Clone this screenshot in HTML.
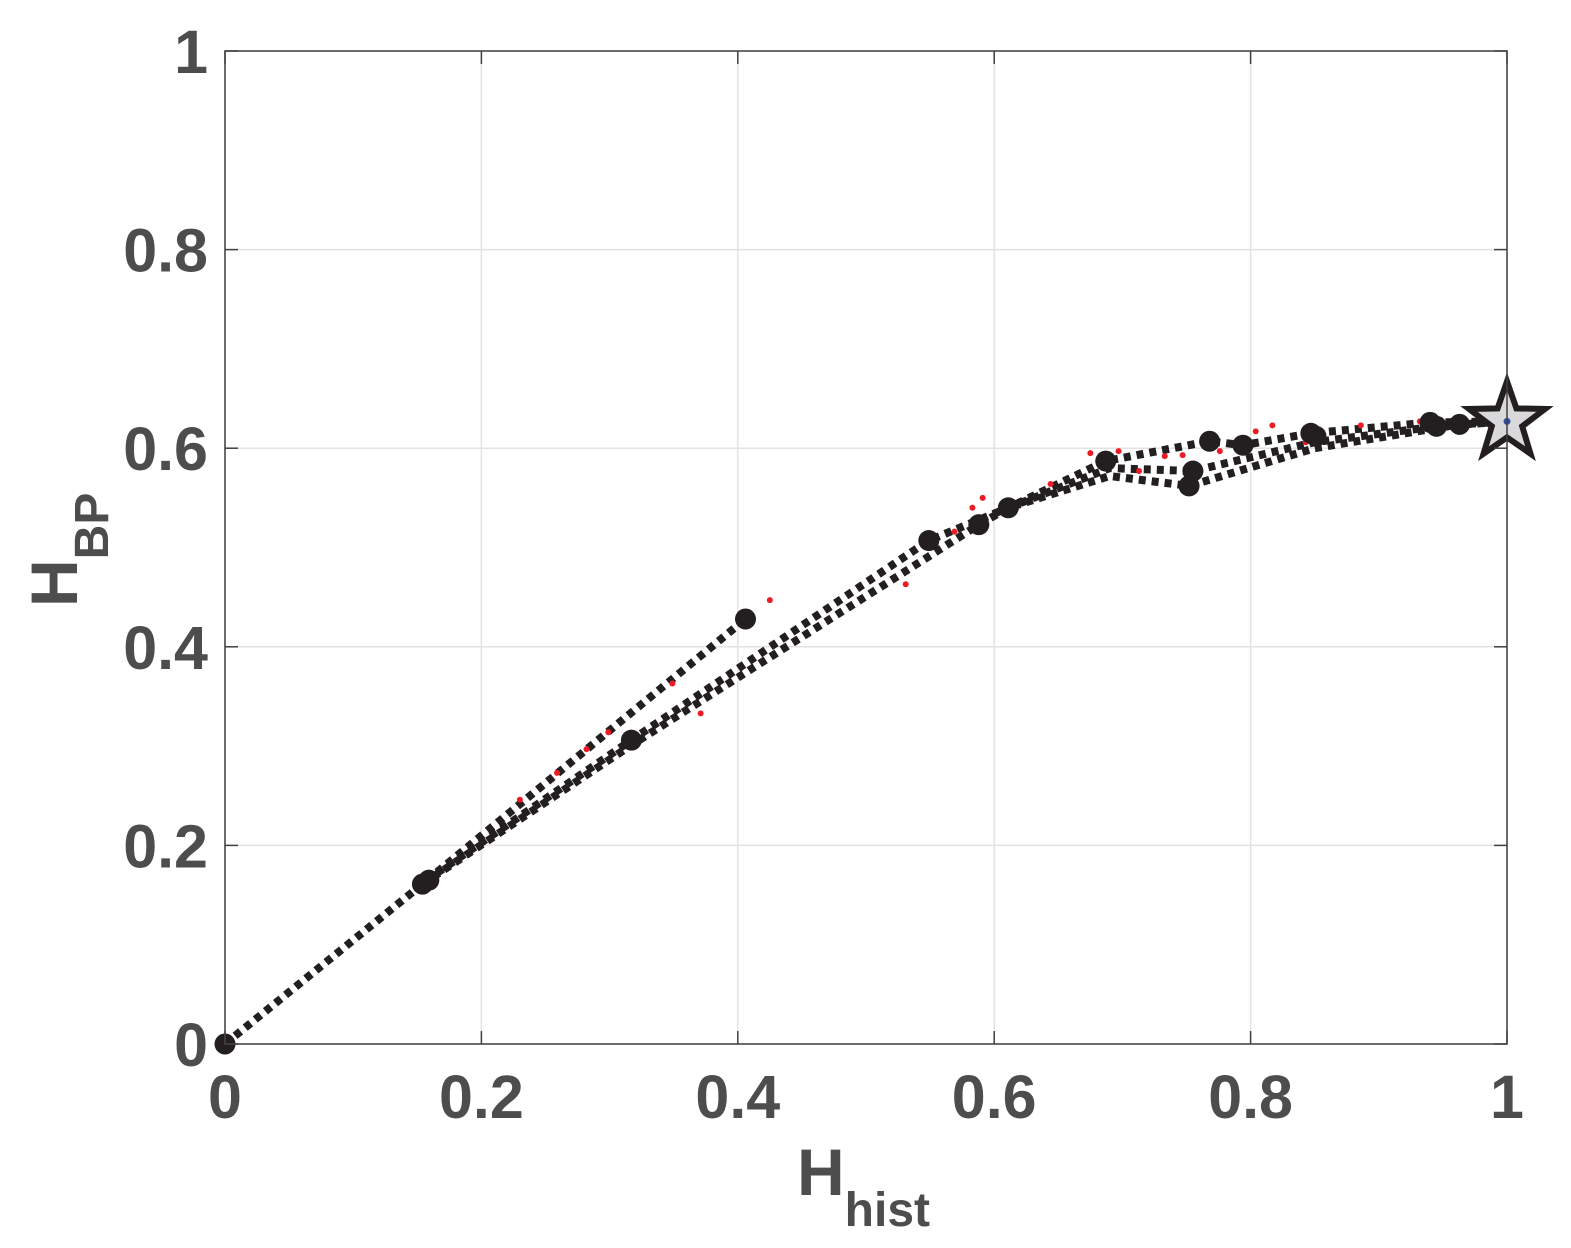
<!DOCTYPE html>
<html><head><meta charset="utf-8"><style>
html,body{margin:0;padding:0;background:#fff;}
svg{display:block;font-family:"Liberation Sans",sans-serif;font-weight:bold;}
</style></head><body>
<svg id="chart" width="1571" height="1248" viewBox="0 0 1571 1248" xmlns="http://www.w3.org/2000/svg">
<rect width="1571" height="1248" fill="#fff"/>
<g id="grid"></g>
<g id="series"></g>
<rect x="225" y="51" width="1282" height="993" fill="none" stroke="#404040" stroke-width="1.5"/>
<g id="ticks"></g>
<text x="797" y="1195" font-size="66" fill="#4d4d4d">H<tspan font-size="48" dy="31">hist</tspan></text>
<text transform="translate(77,607) rotate(-90)" font-size="66" fill="#4d4d4d">H<tspan font-size="48" dy="31">BP</tspan></text>
</svg>
<script>
const xTicks=[0,0.2,0.4,0.6,0.8,1];
const yTicks=[0,0.2,0.4,0.6,0.8,1];
const xTickLabels=["0","0.2","0.4","0.6","0.8","1"];
const yTickLabels=["0","0.2","0.4","0.6","0.8","1"];
const pathAx=[0,0.154,0.406];
const pathAy=[0,0.161,0.428];
const pathBx=[0.157,0.317,0.549,0.611,0.687,0.768,0.794,0.847,0.94,1];
const pathBy=[0.165,0.306,0.507,0.540,0.587,0.607,0.603,0.615,0.626,0.627];
const pathCx=[0.154,0.317,0.588,0.611,0.69,0.752,0.85,0.963,1];
const pathCy=[0.161,0.301,0.523,0.540,0.572,0.562,0.600,0.624,0.627];
const pathDx=[0.611,0.69,0.755,0.85,0.945,1];
const pathDy=[0.540,0.580,0.577,0.606,0.622,0.627];
const nodeX=[0,0.154,0.159,0.406,0.317,0.549,0.588,0.611,0.687,0.768,0.752,0.755,0.794,0.847,0.851,0.94,0.945,0.963];
const nodeY=[0,0.161,0.165,0.428,0.306,0.507,0.523,0.540,0.587,0.607,0.562,0.577,0.603,0.615,0.612,0.626,0.622,0.624];
const redX=[0.230,0.259,0.282,0.299,0.349,0.371,0.425,0.531,0.569,0.583,0.591,0.644,0.675,0.697,0.713,0.733,0.747,0.776,0.804,0.817,0.843,0.886,0.932];
const redY=[0.246,0.273,0.297,0.314,0.363,0.333,0.447,0.463,0.516,0.540,0.550,0.564,0.595,0.597,0.577,0.592,0.593,0.597,0.617,0.623,0.606,0.623,0.627];
const starX=[1], starY=[0.627];

const X=v=>225+v*1282, Y=v=>1044-v*993;
const NS="http://www.w3.org/2000/svg";
function mk(tag,parent,attrs){const e=document.createElementNS(NS,tag);for(const k in attrs)e.setAttribute(k,attrs[k]);parent.appendChild(e);return e;}
const grid=document.getElementById('grid'),ticks=document.getElementById('ticks'),ser=document.getElementById('series');
xTicks.forEach((t,i)=>{
  const g=mk('line',grid,{x1:X(t),x2:X(t),y1:51,y2:1044,stroke:'#e3e3e3','stroke-width':1.5});
  
  
  const a=mk('line',ticks,{x1:X(t),x2:X(t),y1:1044,y2:1031,stroke:'#404040','stroke-width':1.5});
  
  
  const b=mk('line',ticks,{x1:X(t),x2:X(t),y1:51,y2:64,stroke:'#404040','stroke-width':1.5});
  
  
  const l=mk('text',ticks,{x:X(t),y:1118,'font-size':61,fill:'#4d4d4d','text-anchor':'middle'});
  l.textContent=xTickLabels[i];
  
  
});
yTicks.forEach((t,i)=>{
  const g=mk('line',grid,{x1:225,x2:1507,y1:Y(t),y2:Y(t),stroke:'#e3e3e3','stroke-width':1.5});
  
  
  const a=mk('line',ticks,{x1:225,x2:238,y1:Y(t),y2:Y(t),stroke:'#404040','stroke-width':1.5});
  
  
  const b=mk('line',ticks,{x1:1494,x2:1507,y1:Y(t),y2:Y(t),stroke:'#404040','stroke-width':1.5});
  
  
  const l=mk('text',ticks,{x:208,y:Y(t)+22,'font-size':61,fill:'#4d4d4d','text-anchor':'end'});
  l.textContent=yTickLabels[i];
  
  
});
function path(xs,ys,name){
  const d=xs.map((x,i)=>(i?'L':'M')+X(x).toFixed(1)+' '+Y(ys[i]).toFixed(1)).join(' ');
  const p=mk('path',ser,{d:d,fill:'none',stroke:'#231f20','stroke-width':8,'stroke-dasharray':'7 6'});
  
  
}
path(pathAx,pathAy,'trajectory-a');
path(pathBx,pathBy,'trajectory-b');
path(pathCx,pathCy,'trajectory-c');
path(pathDx,pathDy,'trajectory-d');
redX.forEach((x,i)=>{
  const c=mk('circle',ser,{cx:X(x),cy:Y(redY[i]),r:3,fill:'#ed1c24'});
  
  
});
nodeX.forEach((x,i)=>{
  const c=mk('circle',ser,{cx:X(x),cy:Y(nodeY[i]),r:10.5,fill:'#231f20'});
  
  
});
starX.forEach((x,i)=>{
  const cx=X(x),cy=Y(starY[i]);let pts=[];
  for(let k=0;k<10;k++){const r=k%2?16:40;const a=-Math.PI/2+k*Math.PI/5;pts.push((cx+r*Math.cos(a)).toFixed(1)+','+(cy+r*Math.sin(a)).toFixed(1));}
  const s=mk('polygon',ser,{points:pts.join(' '),fill:'#d9d9db',stroke:'#231f20','stroke-width':6,'stroke-linejoin':'miter'});
  
  
  const d=mk('circle',ser,{cx:cx,cy:cy,r:3.5,fill:'#2e4fa3'});
  
  
});
</script>
</body></html>
